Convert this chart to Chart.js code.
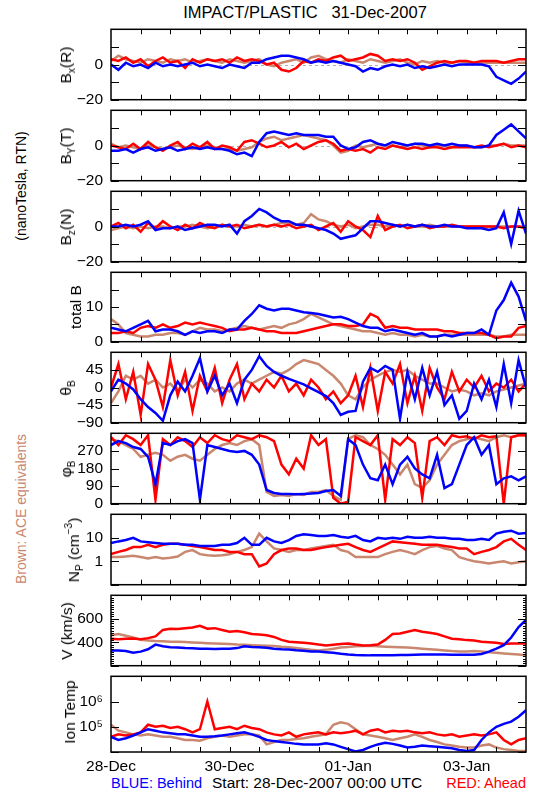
<!DOCTYPE html>
<html>
<head>
<meta charset="utf-8">
<script src="https://cdn.jsdelivr.net/npm/chart.js@4.4.0/dist/chart.umd.min.js"></script>
<style>
  body { margin: 0; background: #fff; }
  #wrap { position: relative; width: 550px; height: 800px; background: #fff; overflow: hidden;
          font-family: "Liberation Sans", Arial, sans-serif; color: #000; }
  #wrap canvas { position: absolute; left: 0; }
  .txt { position: absolute; white-space: pre; font-size: 15.5px; line-height: 16px; }
  .ylab { position: absolute; white-space: nowrap; font-size: 15.5px; line-height: 16px;
          transform: translate(-50%, -50%) rotate(-90deg); }
  .ylab sub { font-size: 10px; vertical-align: -4px; line-height: 0; }
  .ylab sup { font-size: 10px; vertical-align: 7px; line-height: 0; }
</style>
</head>
<body>
<div id="wrap">
  <div class="txt" style="left:305px; top:4px; font-size:16.5px; transform:translateX(-50%);">IMPACT/PLASTIC   31-Dec-2007</div>
  <div class="ylab" style="left:21px; top:186px; font-size:14px;">(nanoTesla,  RTN)</div>
  <div class="ylab" style="left:21px; top:509px; font-size:14px; color:#c8876e;">Brown:  ACE equivalents</div>
  <div class="txt" style="left:111px; top:775px; font-size:14.5px; color:#0000ff;">BLUE: Behind</div>
  <div class="txt" style="left:212px; top:775px;">Start: 28-Dec-2007 00:00 UTC</div>
  <div class="txt" style="right:24px; top:775px; font-size:14.5px; color:#ff0000;">RED: Ahead</div>
</div>
<script>
// time axis, hours after 28-Dec-2007 00:00 UTC
var hours = [0,3,6,9,12,15,18,21, 24,27,30,33,36,39,42,45, 48,51,54,57,60,63,66,69,
  72,75,78,81,84,87,90,93, 96,99,102,105,108,111,114,117, 120,123,126,129,132,135,138,141,
  144,147,150,153,156,159,162,165, 168];
var dayTicks = [0, 48, 96, 144];
var dayLabels = ["28-Dec", "30-Dec", "01-Jan", "03-Jan"];

// Bx (R)
var bxBlue = [0,-3,1,-1,0,-2,1,-1, 0,-1,0,1,-1,0,-1,-2, 0,-1,-2,1,1,3,4,5,
  5,4,3,1,2,1,2,1, 0,-1,-4,-2,-3,-1,0,-1, 0,-2,-1,-2,-1,0,-1,0, 0,0,0,-1,-7,-9,-11,-8, -4];
var bxRed = [3,2,4,1,3,-1,2,4, 1,2,-2,3,1,3,2,3, 1,4,2,3,2,0,1,-3,
  -4,-2,2,1,3,2,4,5, 2,3,4,6,5,2,3,2, 3,1,-3,-1,1,2,1,2, 2,1,2,2,2,1,2,3, 3];
var bxBrown = [2,5,3,2,1,3,2,1, 3,2,3,1,2,3,2,1, 3,2,1,2,3,0,-1,1,
  2,3,1,4,5,3,2,1, 3,2,1,3,2,1,2,3, 1,0,2,1,2,1,1,2, 1,1,1,1,1,1,1,1, 1];

// By (T)
var byBlue = [-3,-3,-2,-4,-2,-1,-3,-2, -1,-3,-2,-1,-2,-1,-2,-2, -3,-5,-4,-6,2,7,8,7,
  6,7,6,6,6,5,5,0, -2,-1,2,3,1,0,2,1, 0,1,1,0,1,0,1,0, 0,-1,-1,0,6,9,12,8, 4];
var byRed = [0,-1,-2,1,-2,2,-1,-3, 0,2,-2,1,-1,2,-2,0, -1,-3,2,3,1,-1,0,2,
  -1,1,-2,0,2,3,1,-3, -2,-3,-2,-4,-1,-2,0,-1, -2,-1,-2,-1,-1,-2,-1,-1, -1,-1,0,-1,0,1,-1,0, -1];
var byBrown = [1,-1,0,-1,-2,0,-1,-2, -1,0,-1,-2,-1,0,-1,-2, -2,-3,-2,-1,2,4,5,3,
  4,5,6,5,4,3,0,-4, -3,0,-1,0,1,0,0,-1, 0,1,0,-1,0,0,-1,0, 0,-1,-1,0,0,1,0,0, 0];

// Bz (N)
var bzBlue = [0,0,1,0,1,3,-2,-1, -1,0,-2,-1,0,1,1,0, 1,-4,3,6,10,8,5,3,
  3,1,1,0,-1,-2,-4,-7, -6,-5,-1,3,3,2,1,0, 1,0,1,0,0,1,0,0, -1,-1,-1,-2,-1,8,-10,9, -4];
var bzRed = [0,2,-1,1,-3,2,-1,3, 0,-2,1,-1,2,0,-1,1, 0,1,-1,0,1,0,1,0,
  1,-1,0,1,-2,0,2,-3, 3,0,-2,-6,6,-2,0,1, -1,0,1,-1,0,0,1,0, 0,0,0,0,0,-1,0,0, -1];
var bzBrown = [-2,-1,0,-1,0,-1,0,0, -1,0,0,1,0,-1,0,1, 0,0,1,0,1,0,1,2,
  2,1,2,7,4,3,1,0, 1,-1,0,1,1,0,1,0, 1,0,0,1,0,0,0,0, 0,0,0,0,0,0,0,0, 0];

// total B
var btBlue = [4,3.5,3,4,5,6,3,3.5, 3.5,3,2,3,2.5,3,3,2.5, 3.5,3.5,6,8,10.5,9.5,9,9.5,
  9.5,9,8.5,8.3,8,7.5,7,7.2, 6.5,5.5,4.5,4,4,3,3.5,3, 2.5,2,2.5,1.5,1.5,2,1.5,2,
  2.5,2.5,3.5,2,9,12,17,13, 6];
var btRed = [2.5,2.5,3,2.5,4,4.5,4,5, 4,4.5,5.5,5,5.5,5,4.5,4, 3,3.5,3.5,4,3.5,3,3,2.5,
  2.5,2.5,3,3.5,4,4.5,5,5, 4.5,4.5,5,8,7,4,4.5,4, 4,3.5,3.5,3.5,3.5,3,3,2.5,
  2.5,2.5,2.5,2,1,1.5,1.5,4, 4.5];
var btBrown = [6.5,5,2.5,2,1.5,1.5,2,2, 2.5,2.5,2,3,4,3.5,3.5,3, 3.5,4,4.5,4,3.5,4,4.5,4,
  5,5.5,6.5,8,7,6,5,4.5, 4,3.5,3,3,2.5,2,2.5,2, 2,1.5,2,1.5,1.5,2,2,2,
  2,2,2,2,1.5,1.5,2,2, 2];

// theta B (deg)
var thBlue = [-10,20,10,-5,-30,-50,-65,-85, -20,15,-10,30,75,-10,30,-20, 10,-40,20,45,80,55,40,30,
  22,15,8,-2,-12,-22,-40,-70, -62,-60,15,50,40,55,45,-80, 40,-30,50,-20,40,-45,-20,-80,
  -60,10,-30,20,-50,60,-40,70, 0];
var thRed = [0,60,-30,40,-70,60,20,-50, 70,-20,40,-60,30,-10,50,-40, 20,60,-30,10,-10,20,0,30,
  -10,10,-20,20,0,-30,-10,-40, -20,30,-50,50,-60,40,10,60, -40,30,-60,50,0,-30,40,-10,
  20,0,30,-10,10,0,20,-10, 10];
var thBrown = [-40,-10,30,20,30,10,20,0, 10,-10,20,0,20,10,-10,0, -10,10,20,10,20,30,40,35,
  45,60,70,65,60,45,30,10, -20,-30,0,20,30,40,45,40, 45,30,20,10,10,0,-10,-5,
  -10,-20,-15,-20,-10,-5,0,5, 10];

// phi B (deg)
var phBlue = [300,320,310,290,280,240,100,310, 300,320,330,310,20,300,290,280,
  270,265,270,250,200,70,55,50, 50,48,50,52,55,65,70,40, 330,300,200,130,120,200,100,200,
  240,180,150,130,250,80,100,200, 300,340,250,300,100,130,140,120, 140];
var phRed = [340,300,350,330,300,350,20,330, 300,340,320,290,340,310,350,330,
  320,350,340,330,350,340,320,200, 150,230,180,350,300,330,30,0, 10,340,320,300,350,20,330,300,
  340,310,30,320,340,300,350,340, 345,330,350,340,345,0,340,350, 350];
var phBrown = [330,320,300,280,240,250,260,250, 220,240,250,230,220,250,280,300,
  310,300,320,330,300,60,40,45, 40,50,45,60,60,70,40,20, 330,350,340,300,280,250,200,150,
  200,100,80,120,200,250,300,320, 330,340,330,320,340,350,340,350, 350];

// proton density (cm^-3)
var npBlue = [6,7,8,10,7,6.5,6,5.5, 5.5,5.5,5,5,4.5,4.5,4.5,5, 5,6,10,5,5,10,7,6,
  8,12,14,13,12,12,13,11, 10,12,8,7,10,9,10,9, 11,10,10,11,10,10,9,9, 8,8,9,8,15,18,20,15, 16];
var npRed = [2,2.5,3,4,4,5,4,5, 5.5,5.5,5,4.5,4,3.5,3,3, 2.5,2.5,2,2,0.6,0.8,2,3,
  3.5,3.5,3,3,3.5,4,4.5,5, 5.5,4,3,2.5,3.5,5,7,6.5, 6,5.5,5,5,5,4.5,4,3.5,
  3.5,2,2.5,3,4,7,9,5, 3];
var npBrown = [1.5,1.5,1.6,1.7,1.5,1.3,1.5,1.3, 1.4,1.6,2.5,3,2,1.8,1.7,1.8,
  2,2.5,3,4,15,7,3.5,3, 2.5,3,3,3.5,4,4.5,5,3, 2.5,1.5,1.5,1.5,1.5,2,2.5,3,
  2.5,2,3,4,4.5,3.5,3,1.5, 1.2,1,0.9,0.8,0.9,1,0.8,0.9, 1];

// bulk speed (km/s)
var vBlue = [330,330,325,310,320,340,380,365, 358,355,350,348,345,345,342,345,
  345,350,365,360,358,352,345,340, 338,332,328,322,320,315,310,302,
  296,292,290,288,288,289,290,291, 292,294,295,295,296,295,294,293,
  293,293,300,320,345,375,440,530, 590];
var vRed = [430,425,430,432,425,435,450,505, 515,512,520,525,540,515,520,505,
  490,495,485,470,465,460,445,420, 405,400,395,390,380,372,378,385,
  390,380,372,375,380,420,470,475, 490,505,490,480,470,450,430,425,
  418,415,405,400,395,385,390,390, 390];
var vBrown = [460,470,455,440,420,415,410,408, 405,405,402,398,395,392,390,388,
  385,380,378,375,372,370,368,362, 358,350,342,335,330,335,345,355,
  360,365,368,370,365,362,360,358, 355,350,345,340,335,330,325,322,
  320,325,322,315,310,305,300,295, 290];

// ion temperature (K)
var tBlue = [4e4,3e4,3.5e4,4.5e4,6e4,8e4,7e4,6e4, 5.5e4,5e4,5e4,4.5e4,4e4,4e4,4.2e4,4.5e4,
  5e4,5.5e4,6e4,5e4,4e4,3e4,2.7e4,2.5e4, 2.3e4,2.1e4,2e4,2e4,2e4,2.2e4,2e4,1.6e4,
  1.3e4,1.05e4,1.2e4,1.6e4,2e4,2.3e4,2.1e4,1.8e4, 1.5e4,1.6e4,1.8e4,1.7e4,1.6e4,1.5e4,1.4e4,1.2e4,
  1.1e4,1.2e4,3e4,6e4,1e5,1.3e5,1.6e5,2.5e5, 4.5e5];
var tRed = [4e4,5e4,4.5e4,5e4,6e4,1.2e5,1e5,1.1e5, 9e4,1e5,8e4,6e4,8e4,1e6,8e4,9e4,
  1e5,8e4,1.1e5,9e4,8e4,6e4,5e4,4.5e4, 6e4,4e4,5e4,5.5e4,6e4,5e4,6e4,5.5e4,
  6e4,7e4,5e4,7e4,8e4,6e4,7e4,6.5e4, 7e4,6e4,5.5e4,6e4,5e4,4.5e4,5e4,4e4,
  4.5e4,5e4,4.5e4,5e4,6e4,3e4,2e4,3e4, 3.5e4];
var tBrown = [1.2e5,7e4,6e4,5e4,4.5e4,5e4,4.5e4,4e4, 4e4,3.5e4,3e4,3e4,2.8e4,3.5e4,4e4,4.5e4,
  4e4,4.5e4,5e4,5e4,4.5e4,2e4,2.5e4,3e4, 3e4,3.3e4,3.5e4,4e4,4.5e4,5e4,1.2e5,1.5e5,
  1.3e5,8e4,5e4,4.5e4,4e4,3.5e4,3e4,3.5e4, 4e4,5e4,4e4,3e4,2.5e4,2e4,1.8e4,1.6e4,
  1.5e4,1.5e4,1.8e4,2e4,1.5e4,1.3e4,1.2e4,1.1e4, 1.1e4];

var BLUE = "#0000ff", RED = "#ff0000", BROWN = "#c8876e";
var FONT = "'Liberation Sans', Arial, sans-serif";

// one entry per stacked panel
var panels = [
  { title: "B<sub>x</sub>(R)", tx: 66, blue: bxBlue, red: bxRed, brown: bxBrown,
    min: -20, max: 20, ticks: [-20, -10, 0, 10, 20], labels: { "-20": "\u221220", "0": "0" }, zero: true },
  { title: "B<sub>Y</sub>(T)", tx: 66, blue: byBlue, red: byRed, brown: byBrown,
    min: -20, max: 20, ticks: [-20, -10, 0, 10, 20], labels: { "-20": "\u221220", "0": "0" }, zero: true },
  { title: "B<sub>z</sub>(N)", tx: 66, blue: bzBlue, red: bzRed, brown: bzBrown,
    min: -20, max: 20, ticks: [-20, -10, 0, 10, 20], labels: { "-20": "\u221220", "0": "0" }, zero: true },
  { title: "total B", tx: 76, blue: btBlue, red: btRed, brown: btBrown,
    min: 0, max: 20, ticks: [0, 5, 10, 15, 20], labels: { "0": "0", "10": "10" } },
  { title: "\u03b8<sub>B</sub>", tx: 66, blue: thBlue, red: thRed, brown: thBrown,
    min: -90, max: 90, ticks: [-90, -45, 0, 45, 90], labels: { "-90": "\u221290", "-45": "\u221245", "0": "0", "45": "45" } },
  { title: "\u03c6<sub>B</sub>", tx: 66, blue: phBlue, red: phRed, brown: phBrown,
    min: 0, max: 360, ticks: [0, 90, 180, 270, 360], labels: { "0": "0", "90": "90", "180": "180", "270": "270" } },
  { title: "N<sub>P</sub> (cm<sup>\u22123</sup>)", tx: 74, blue: npBlue, red: npRed, brown: npBrown, log: true,
    min: 0.1, max: 100, ticks: [0.1, 1, 10, 100], labels: { "1": "1", "10": "10" } },
  { title: "V (km/s)", tx: 67, blue: vBlue, red: vRed, brown: vBrown,
    min: 200, max: 800, ticks: [200, 400, 600, 800], labels: { "400": "400", "600": "600" },
    minor: [220,240,260,280,300,320,340,360,380,420,440,460,480,500,520,540,560,580,620,640,660,680,700,720,740,760,780] },
  { title: "Ion Temp", tx: 70, blue: tBlue, red: tRed, brown: tBrown, log: true,
    min: 1e4, max: 1e7, ticks: [1e4, 1e5, 1e6, 1e7], labels: { "100000": "10\u2075", "1000000": "10\u2076" } }
];

var wrap = document.getElementById("wrap");
var PANEL_TOP = 24, PANEL_H = 80.85;

function series(values) {
  return hours.map(function (h, i) { return { x: h, y: values[i] }; });
}

function framePlugin(p) {
  return {
    id: "frame",
    beforeDatasetsDraw: function (chart) {
      if (!p.zero) return;
      var a = chart.chartArea, ctx = chart.ctx;
      var py = Math.round(chart.scales.y.getPixelForValue(0)) + 0.5;
      ctx.save();
      ctx.strokeStyle = "#b0b0b0";
      ctx.lineWidth = 1;
      ctx.setLineDash([3, 3]);
      ctx.beginPath();
      ctx.moveTo(a.left, py);
      ctx.lineTo(a.right, py);
      ctx.stroke();
      ctx.restore();
    },
    afterDatasetsDraw: function (chart) {
      var a = chart.chartArea, ctx = chart.ctx;
      var xs = chart.scales.x, ys = chart.scales.y;
      ctx.save();
      ctx.strokeStyle = "#000";
      ctx.lineWidth = 1.5;
      ctx.strokeRect(a.left, a.top, a.right - a.left, a.bottom - a.top);
      ctx.lineWidth = 1;
      ctx.beginPath();
      for (var h = 12; h < 168; h += 12) {
        var px = Math.round(xs.getPixelForValue(h)) + 0.5;
        ctx.moveTo(px, a.top); ctx.lineTo(px, a.top + 5);
        ctx.moveTo(px, a.bottom); ctx.lineTo(px, a.bottom - 5);
      }
      p.ticks.forEach(function (v) {
        var py = Math.round(ys.getPixelForValue(v)) + 0.5;
        ctx.moveTo(a.left, py); ctx.lineTo(a.left + 8, py);
        ctx.moveTo(a.right, py); ctx.lineTo(a.right - 8, py);
      });
      (p.minor || []).forEach(function (v) {
        var py = Math.round(ys.getPixelForValue(v)) + 0.5;
        ctx.moveTo(a.left, py); ctx.lineTo(a.left + 3, py);
        ctx.moveTo(a.right, py); ctx.lineTo(a.right - 3, py);
      });
      ctx.stroke();
      ctx.restore();
    }
  };
}

panels.forEach(function (p, i) {
  var top = Math.round(PANEL_TOP + i * PANEL_H);
  var bottom = Math.round(PANEL_TOP + (i + 1) * PANEL_H);
  var last = i === panels.length - 1;
  var padTop = 12, padBottom = last ? 0 : 12, axisH = last ? 26 : 0;

  var canvas = document.createElement("canvas");
  canvas.width = 550;
  canvas.height = bottom - top + padTop + padBottom + axisH;
  canvas.style.top = (top - padTop) + "px";
  wrap.appendChild(canvas);

  var lab = document.createElement("div");
  lab.className = "ylab";
  lab.style.left = p.tx + "px";
  lab.style.top = ((top + bottom) / 2) + "px";
  lab.innerHTML = p.title;
  wrap.appendChild(lab);

  function ds(values, color) {
    return { data: series(values), borderColor: color, backgroundColor: color,
             borderWidth: 2.5, pointRadius: 0, tension: 0, fill: false };
  }

  new Chart(canvas, {
    type: "line",
    data: { datasets: [ds(p.blue, BLUE), ds(p.red, RED), ds(p.brown, BROWN)] },
    options: {
      responsive: false,
      animation: false,
      events: [],
      layout: { padding: { left: 0, right: 24, top: padTop, bottom: padBottom } },
      plugins: { legend: { display: false }, tooltip: { enabled: false } },
      scales: {
        x: {
          type: "linear", min: 0, max: 168, display: last,
          grid: { display: false, drawTicks: false },
          border: { display: false },
          afterBuildTicks: function (s) { s.ticks = dayTicks.map(function (v) { return { value: v }; }); },
          afterFit: function (s) { s.height = axisH; },
          ticks: {
            autoSkip: false, maxRotation: 0, padding: 5, color: "#000",
            font: { family: FONT, size: 15.5 },
            callback: function (v) { return dayLabels[dayTicks.indexOf(v)]; }
          }
        },
        y: {
          type: p.log ? "logarithmic" : "linear",
          min: p.min, max: p.max,
          grid: { display: false, drawTicks: false },
          border: { display: false },
          afterBuildTicks: function (s) { s.ticks = p.ticks.map(function (v) { return { value: v }; }); },
          afterFit: function (s) { s.width = 111; },
          ticks: {
            autoSkip: false, padding: 8, color: "#000",
            font: { family: FONT, size: 15.5 },
            callback: function (v) { return p.labels[String(v)] || ""; }
          }
        }
      }
    },
    plugins: [framePlugin(p)]
  });
});
</script>
</body>
</html>
